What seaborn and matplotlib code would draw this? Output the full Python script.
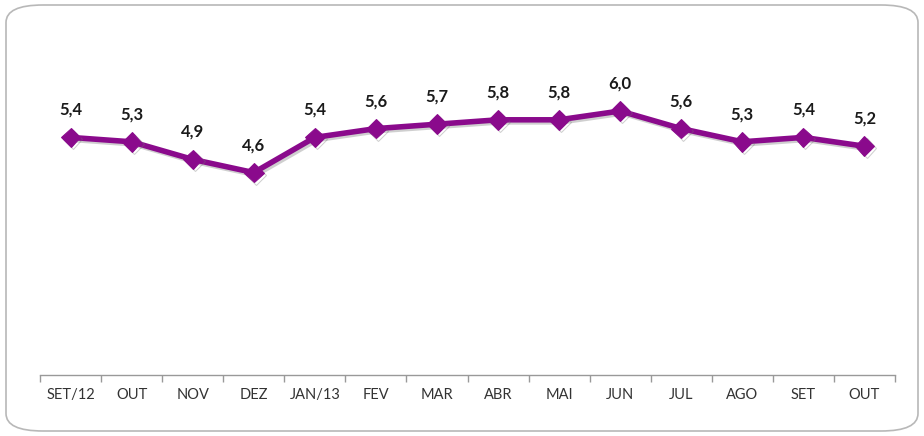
import matplotlib
matplotlib.use("Agg")
import matplotlib.pyplot as plt
import matplotlib.patheffects as pe
from matplotlib.patches import FancyBboxPatch
import seaborn as sns
import pandas as pd

# monthly values
months = ["SET/12", "OUT", "NOV", "DEZ", "JAN/13", "FEV", "MAR", "ABR",
          "MAI", "JUN", "JUL", "AGO", "SET", "OUT"]
values = [5.4, 5.3, 4.9, 4.6, 5.4, 5.6, 5.7, 5.8, 5.8, 6.0, 5.6, 5.3, 5.4, 5.2]

df = pd.DataFrame({"pos": range(len(months)), "valor": values})

sns.set_theme(style="white")
plt.rcParams["font.family"] = ["Lato", "DejaVu Sans"]

purple = "#8a0a8c"

fig = plt.figure(figsize=(9.24, 4.36), dpi=100)

# rounded frame round the whole chart
frame = FancyBboxPatch((6 / 924, 5 / 436), 912 / 924, 426 / 436,
                       boxstyle="round,pad=0,rounding_size=0.04",
                       transform=fig.transFigure, facecolor="white",
                       edgecolor="#b8b8b8", linewidth=1.2, zorder=-5)
fig.patches.append(frame)

ax = fig.add_axes([40 / 924, (436 - 375) / 436, 855 / 924, 330 / 436])
ax.set_zorder(2)
ax.set_facecolor("none")

shadow = [pe.SimpleLineShadow(offset=(1.5, -1.5), shadow_color="#777777", alpha=0.35),
          pe.Normal()]
sns.lineplot(data=df, x="pos", y="valor", ax=ax, color=purple, linewidth=4,
             marker="D", markersize=10, markeredgecolor=purple,
             path_effects=shadow)

for x, v in zip(df["pos"], df["valor"]):
    ax.annotate(f"{v:.1f}".replace(".", ","), (x, v), xytext=(0, 14),
                textcoords="offset points", ha="center", va="bottom",
                fontsize=12, fontweight="bold", color="#1a1a1a")

ax.set_xlim(-0.5, len(months) - 0.5)
ax.set_ylim(0, 7.5)
ax.set_xticks(range(len(months)))
ax.set_xticklabels(months, fontsize=10.5, color="#333333")
ax.set_xticks([i - 0.5 for i in range(len(months) + 1)], minor=True)
ax.tick_params(axis="x", which="major", length=0, pad=9)
ax.tick_params(axis="x", which="minor", length=5, color="#999999", width=1,
               bottom=True, direction="out")
ax.set_yticks([])
ax.set_xlabel("")
ax.set_ylabel("")
for s in ["top", "left", "right"]:
    ax.spines[s].set_visible(False)
ax.spines["bottom"].set_color("#999999")
ax.spines["bottom"].set_linewidth(1)

fig.savefig("out.png", dpi=100)
